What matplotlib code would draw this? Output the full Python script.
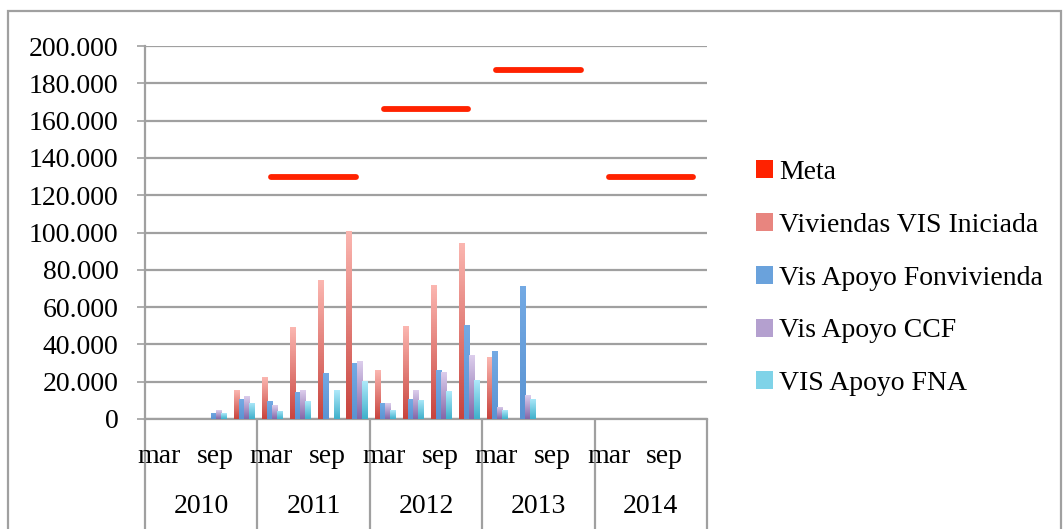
import numpy as np
import matplotlib
matplotlib.use('Agg')
import matplotlib.pyplot as plt
from matplotlib.colors import LinearSegmentedColormap
from matplotlib.patches import Patch, Rectangle
from matplotlib.ticker import FuncFormatter


# data
# ------------------------------------------------------------------
years = ['2010', '2011', '2012', '2013', '2014']
quarters = ['mar', '', 'sep', '']
nan = np.nan
meta = [nan, nan, nan, nan,
        130000, 130000, 130000, 130000,
        166000, 166000, 166000, 166000,
        187000, 187000, 187000, 187000,
        130000, 130000, 130000, 130000]
viviendas = [0, 0, 0, 15500, 22500, 49300, 74400, 100600,
             26200, 49600, 71600, 94600, 33000, 0, 0, 0, 0, 0, 0, 0]
fonvivienda = [0, 0, 3400, 10700, 9600, 14600, 24600, 29800,
               8500, 10700, 26400, 50200, 36300, 71500, 0, 0, 0, 0, 0, 0]
ccf = [0, 0, 4800, 12300, 7500, 15500, 0, 31000,
       8500, 15500, 25100, 34200, 6600, 12800, 0, 0, 0, 0, 0, 0]
fna = [0, 0, 3200, 8600, 4300, 9600, 15500, 20300,
       4700, 10200, 14900, 20900, 4800, 10800, 0, 0, 0, 0, 0, 0]

# (label, values, bottom colour, top colour, legend colour)
series = [('Viviendas VIS Iniciada', viviendas, '#c8443e', '#fbb6b0', '#e8857f'),
          ('Vis Apoyo Fonvivienda', fonvivienda, '#5a93d2', '#74aae4', '#6aa2dc'),
          ('Vis Apoyo CCF', ccf, '#8467a8', '#dccdec', '#b4a0cf'),
          ('VIS Apoyo FNA', fna, '#3fb0cb', '#aee9fa', '#7fd3e8')]

W, H = 1063, 529
FS = 20
plt.rcParams['font.family'] = ['Liberation Serif', 'DejaVu Serif']
grid_col = '#a0a0a0'

fig = plt.figure(figsize=(W / 100, H / 100), dpi=100)
ax = fig.add_axes([145 / W, 1 - 419 / H, (707 - 145) / W, (419 - 46) / H])

# bars with vertical gradient
# ------------------------------------------------------------------
n_cat = len(viviendas)
x = np.arange(n_cat) + 0.5
bw = 0.18
for k, (name, vals, c_bot, c_top, _) in enumerate(series):
    cmap = LinearSegmentedColormap.from_list(name, [c_bot, c_top])
    bars = ax.bar(x + (k - 1.5) * bw + 0.03, vals, bw, facecolor='none',
                  edgecolor='none', zorder=3)
    for b in bars:
        h = b.get_height()
        if h <= 0:
            continue
        grad = np.linspace(0, 1, 64).reshape(-1, 1)
        im = ax.imshow(grad, cmap=cmap, aspect='auto', origin='lower',
                       extent=[b.get_x(), b.get_x() + b.get_width(), 0, h],
                       zorder=3)
        im.set_clip_path(b)

# meta line, one piece per year
meta_arr = np.array(meta)
for y in range(len(years)):
    sl = slice(4 * y, 4 * y + 4)
    ax.plot(x[sl], meta_arr[sl], color='#ff2200', lw=4.2,
            solid_capstyle='round', zorder=4)

ax.set_xlim(0, n_cat)
ax.set_ylim(0, 200000)
ax.set_yticks(np.arange(0, 200001, 20000))
ax.yaxis.set_major_formatter(
    FuncFormatter(lambda v, p: f'{int(v):,}'.replace(',', '.')))
ax.grid(axis='y', color=grid_col, lw=1.6, zorder=1)
ax.set_axisbelow(True)
for s in ['top', 'right']:
    ax.spines[s].set_visible(False)
for s in ['left', 'bottom']:
    ax.spines[s].set_color(grid_col)
    ax.spines[s].set_linewidth(1.6)
ax.tick_params(axis='y', direction='out', length=6, width=1.2,
               color=grid_col, pad=13, labelsize=FS)
ax.set_xticks([])

# two-level category axis
tr = ax.get_xaxis_transform()
ax.vlines(np.arange(0, n_cat + 1, 4), -0.32, 0, transform=tr,
          colors=grid_col, lw=1.6, clip_on=False)
for y, yr in enumerate(years):
    for q, lab in enumerate(quarters):
        if lab:
            ax.text(x[4 * y + q], -0.1, lab, transform=tr, ha='center',
                    va='center', fontsize=FS)
    ax.text(4 * y + 2, -0.235, yr, transform=tr, ha='center', va='center',
            fontsize=FS)

# legend
handles = [Patch(facecolor='#ff2200', label='Meta')]
handles += [Patch(facecolor=c_leg, label=name) for name, _, _, _, c_leg in series]
fig.legend(handles=handles, loc='upper left',
           bbox_to_anchor=(756 / W, 1 - 160 / H), frameon=False,
           fontsize=FS, handlelength=0.62, handleheight=0.62,
           handletextpad=0.22, labelspacing=1.0, borderpad=0,
           borderaxespad=0)

# outer frame
fig.add_artist(Rectangle((8 / W, -0.05), (1061 - 8) / W, 1.05 - 11 / H,
                         transform=fig.transFigure, fill=False,
                         edgecolor=grid_col, lw=1.6))

fig.savefig('out.png', dpi=100)
